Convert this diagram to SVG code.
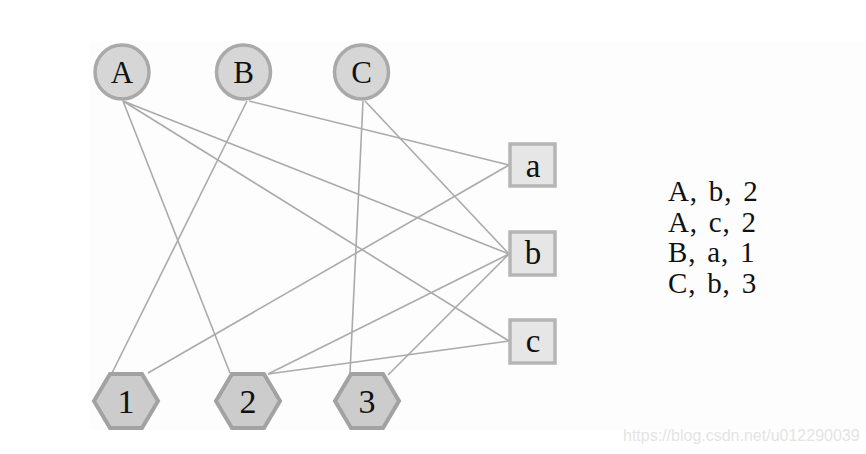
<svg xmlns="http://www.w3.org/2000/svg" width="866" height="454" viewBox="0 0 866 454">
<style>
.circ{fill:#d6d6d6;stroke:#a9a9a9;stroke-width:3.5}
.sq{fill:#e6e6e6;stroke:#b5b5b5;stroke-width:3.5}
.hex{fill:#cccccc;stroke:#a2a2a2;stroke-width:4}
.lbl{font-family:"Liberation Serif","Times New Roman",serif;fill:#111;text-anchor:middle}
.edge{stroke:#aaaaaa;stroke-width:1.6;fill:none}
.list{font-family:"Liberation Serif","Times New Roman",serif;font-size:29px;fill:#111;word-spacing:3px;letter-spacing:0.8px}
</style>
<rect width="866" height="454" fill="#ffffff"/>
<rect x="89" y="41" width="777" height="389" fill="#fdfdfd"/>
<g id="connectors">
<line class="edge" x1="123" y1="101" x2="230" y2="373"/>
<line class="edge" x1="123" y1="101" x2="509" y2="254"/>
<line class="edge" x1="123" y1="101" x2="509" y2="341"/>
<line class="edge" x1="247" y1="101" x2="112" y2="373"/>
<line class="edge" x1="249" y1="101" x2="509" y2="165"/>
<line class="edge" x1="363" y1="101" x2="350" y2="373"/>
<line class="edge" x1="365" y1="101" x2="509" y2="254"/>
<line class="edge" x1="148" y1="373" x2="509" y2="165"/>
<line class="edge" x1="268" y1="374" x2="509" y2="254"/>
<line class="edge" x1="268" y1="374" x2="509" y2="341"/>
<line class="edge" x1="388" y1="375" x2="509" y2="254"/>
</g>
<g id="A"><circle class="circ" cx="122" cy="72" r="27"/><text class="lbl" x="122" y="83" font-size="31">A</text></g>
<g id="B"><circle class="circ" cx="243.5" cy="72" r="27"/><text class="lbl" x="243.5" y="83" font-size="31">B</text></g>
<g id="C"><circle class="circ" cx="361.5" cy="72" r="27"/><text class="lbl" x="361.5" y="83" font-size="31">C</text></g>
<g id="a"><rect class="sq" x="510" y="144" width="45" height="42"/><text class="lbl" x="533" y="177" font-size="33">a</text></g>
<g id="b"><rect class="sq" x="510" y="232" width="45" height="43"/><text class="lbl" x="533" y="264" font-size="33">b</text></g>
<g id="c"><rect class="sq" x="510" y="320" width="45" height="43"/><text class="lbl" x="533" y="352" font-size="33">c</text></g>
<g id="n1"><polygon class="hex" points="94,401 110,374 142,374 158,401 142,428 110,428"/><text class="lbl" x="126" y="413" font-size="34">1</text></g>
<g id="n2"><polygon class="hex" points="216,401 232,374 264,374 280,401 264,428 232,428"/><text class="lbl" x="248" y="413" font-size="34">2</text></g>
<g id="n3"><polygon class="hex" points="335,401 351,374 383,374 399,401 383,428 351,428"/><text class="lbl" x="367" y="413" font-size="34">3</text></g>
<g id="list">
<text class="list" x="668" y="201">A, b, 2</text>
<text class="list" x="668" y="232">A, c, 2</text>
<text class="list" x="668" y="262">B, a, 1</text>
<text class="list" x="668" y="293">C, b, 3</text>
</g>
<text x="623" y="441" font-family="Liberation Sans, Arial, sans-serif" font-size="16" fill="#e4e4e4">https://blog.csdn.net/u012290039</text>
</svg>
